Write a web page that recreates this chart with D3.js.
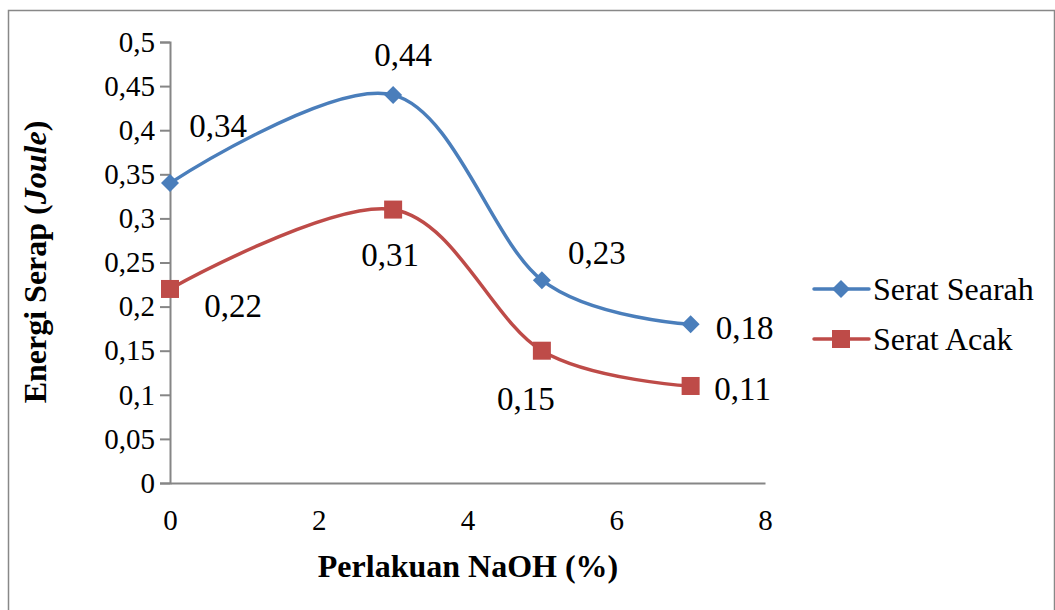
<!DOCTYPE html>
<html><head><meta charset="utf-8">
<script src="https://cdn.jsdelivr.net/npm/d3@7"></script>
<style>body{margin:0;background:#fff}svg{display:block}text{font-family:"Liberation Serif","Times New Roman",serif;fill:#000}</style>
</head><body><svg id="c" width="1055" height="610"></svg>
<script>
const xValues = [0, 3, 5, 7];
const searah = [0.34, 0.44, 0.23, 0.18];
const acak = [0.22, 0.31, 0.15, 0.11];
const yTicks = [0, 0.05, 0.1, 0.15, 0.2, 0.25, 0.3, 0.35, 0.4, 0.45, 0.5];
const xTicks = [0, 2, 4, 6, 8];
const seriesNames = ["Serat Searah", "Serat Acak"];
const labelOffsetsSearah = [[48,-58],[10,-40],[55,-28],[54,3]];
const labelOffsetsAcak = [[63,16],[-3,45],[-16,48],[52,2]];

const svg = d3.select("#c");
svg.append("rect").attr("x",8.5).attr("y",10.5).attr("width",1046).attr("height",640)
  .attr("fill","#fff").attr("stroke","#888").attr("stroke-width",1.5);

const x = d3.scaleLinear().domain([0,8]).range([170,765]);
const y = d3.scaleLinear().domain([0,0.5]).range([483,42]);
const fmt = v => String(v).replace(".", ",");
const axisColor = "#868686";
const FS = 29;

// y axis
const ya = svg.append("g").attr("transform","translate(170,0)")
  .call(d3.axisLeft(y).tickValues(yTicks).tickSize(10).tickFormat(fmt));
ya.attr("font-family",null).attr("font-size",null);
ya.select(".domain").attr("stroke",axisColor).attr("stroke-width",2);
ya.selectAll(".tick line").attr("stroke",axisColor).attr("stroke-width",2);
ya.selectAll(".tick text").attr("font-size",FS).attr("x",-15);

// x axis
const xa = svg.append("g").attr("transform","translate(0,483)")
  .call(d3.axisBottom(x).tickValues(xTicks).tickSize(0).tickPadding(37).tickFormat(fmt));
xa.attr("font-family",null).attr("font-size",null);
xa.select(".domain").attr("stroke",axisColor).attr("stroke-width",2);
xa.selectAll(".tick text").attr("font-size",FS).attr("dy","0.35em");

// titles
svg.append("text").attr("x",468).attr("y",566).attr("dy","0.35em").attr("text-anchor","middle")
  .attr("font-size",32).attr("font-weight","bold").text("Perlakuan NaOH (%)");
const yt = svg.append("text").attr("transform","translate(35,262) rotate(-90)")
  .attr("text-anchor","middle").attr("dy","0.35em").attr("font-size",32).attr("font-weight","bold");
yt.append("tspan").text("Energi Serap (");
yt.append("tspan").attr("font-style","italic").text("Joule");
yt.append("tspan").text(")");

const colors = ["#4A7EBB","#BE4B48"];
const line = d3.line().x(d=>x(d[0])).y(d=>y(d[1])).curve(d3.curveCatmullRom.alpha(0));

function diamond(g, cx, cy, r, c){
  g.append("path").attr("d",`M${cx},${cy-r}L${cx+r},${cy}L${cx},${cy+r}L${cx-r},${cy}Z`).attr("fill",c);
}
function square(g, cx, cy, s, c){
  g.append("rect").attr("x",cx-s/2).attr("y",cy-s/2).attr("width",s).attr("height",s).attr("fill",c);
}

[searah, acak].forEach((vals,i)=>{
  const pts = xValues.map((xv,j)=>[xv, vals[j]]);
  svg.append("path").attr("d",line(pts)).attr("fill","none").attr("stroke",colors[i]).attr("stroke-width",3.5);
  const g = svg.append("g");
  const offs = i===0 ? labelOffsetsSearah : labelOffsetsAcak;
  pts.forEach((p,j)=>{
    if(i===0) diamond(g, x(p[0]), y(p[1]), 9, colors[i]); else square(g, x(p[0]), y(p[1]), 18, colors[i]);
    svg.append("text").attr("x",x(p[0])+offs[j][0]).attr("y",y(p[1])+offs[j][1]).attr("dy","0.35em")
      .attr("text-anchor","middle").attr("font-size",33).text(fmt(p[1]));
  });
});

// legend
seriesNames.forEach((n,i)=>{
  const ly = 289 + i*50;
  svg.append("line").attr("x1",814).attr("x2",869).attr("y1",ly).attr("y2",ly)
    .attr("stroke",colors[i]).attr("stroke-width",3.5).attr("stroke-linecap","round");
  if(i===0) diamond(svg, 841, ly, 9, colors[i]); else square(svg, 841, ly, 18, colors[i]);
  svg.append("text").attr("x",873).attr("y",ly).attr("dy","0.35em").attr("font-size",32).text(n);
});
</script></body></html>
